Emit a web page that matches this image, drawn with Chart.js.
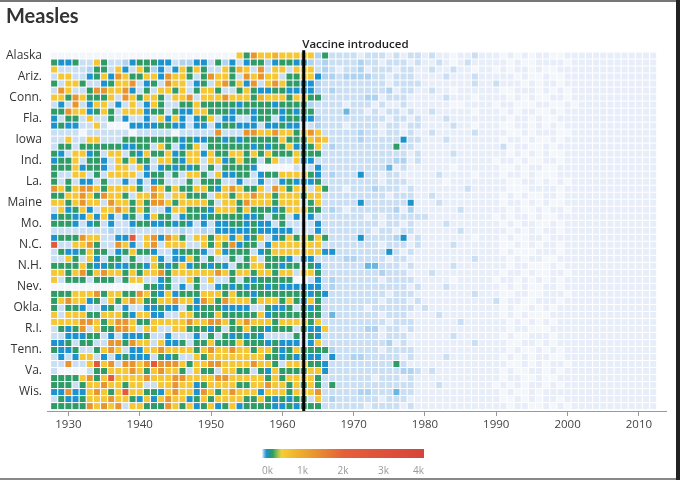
<!DOCTYPE html>
<html>
<head>
<meta charset="utf-8">
<title>Measles</title>
<script src="https://cdn.jsdelivr.net/npm/chart.js@4.4.1/dist/chart.umd.min.js"></script>
<style>
  html, body { margin: 0; padding: 0; background: #fff; }
  #wrap { position: relative; width: 680px; height: 480px; overflow: hidden; }
  #title { position: absolute; left: 6px; top: 3px; font: 700 20px/24px Lato, sans-serif; color: #333; }
  #main { position: absolute; left: 0; top: 0; }
  #legend { position: absolute; left: 240px; top: 440px; }
  .edge { position: absolute; }
</style>
</head>
<body>
<div id="wrap">
  <canvas id="main" width="680" height="480"></canvas>
  <canvas id="legend" width="200" height="40"></canvas>
  <div id="title">Measles</div>
  <div class="edge" style="left:0;top:0;width:680px;height:2px;background:#777"></div>
  <div class="edge" style="left:0;top:478px;width:680px;height:2px;background:#888"></div>
  <div class="edge" style="left:676px;top:0;width:4px;height:480px;background:#222"></div>
</div>
<script>
// states, alphabetical by postal code (only every third one is labelled)
const states = ['Alaska', 'Ala.', 'Ark.', 'Ariz.', 'Calif.', 'Colo.', 'Conn.', 'D.C.', 'Del.', 'Fla.',
    'Ga.', 'Hawaii', 'Iowa', 'Idaho', 'Ill.', 'Ind.', 'Kan.', 'Ky.', 'La.', 'Mass.',
    'Md.', 'Maine', 'Mich.', 'Minn.', 'Mo.', 'Miss.', 'Mont.', 'N.C.', 'N.D.', 'Neb.',
    'N.H.', 'N.J.', 'N.M.', 'Nev.', 'N.Y.', 'Ohio', 'Okla.', 'Ore.', 'Pa.', 'R.I.',
    'S.C.', 'S.D.', 'Tenn.', 'Texas', 'Utah', 'Va.', 'Vt.', 'Wash.', 'Wis.', 'W.Va.', 'Wyo.'];
const labelRows = [0, 3, 6, 9, 12, 15, 18, 21, 24, 27, 30, 33, 36, 39, 42, 45, 48];
const firstYear = 1928;
const tickYears = [1930, 1940, 1950, 1960, 1970, 1980, 1990, 2000, 2010];
const vaccineYear = 1963;
const legendTicks = [0, 1000, 2000, 3000, 4000];

// cases per 100,000 people
const classValues = { '.': null, '0': 0, '1': 14, '2': 30, 'm': 60, '3': 110, '4': 260, '5': 380,
    '6': 560, '7': 850, '8': 1300, '9': 2400 };

// colour scale
const scaleValues = [0, 8, 30, 60, 110, 180, 260, 380, 480, 850, 1300, 2000, 4000];
const scaleColors = ['#e8eef9', '#d4e4f5', '#aed2ef', '#6ab6e3', '#1c93cf', '#1f9690', '#2f9b66',
    '#8fc24b', '#f6cd36', '#f0b22c', '#e8952f', '#e5603a', '#d7433a'];
const noDataColor = '#f3f6fb';

// one string per state, 1928 ... 2012
// groups: 1928-37 1938-47 1948-57 1958-66 | 1967-79 1980-89 1990-2002 2003-12
const rows = [
    '.......... .......... ......6486 676666624 | 1111011101011 0100.00100 0.0.0.00..000 0000000000',
    '4334116411 2344433122 3314231344 234433212 | 1111211011101 0010.01000 00.0..0000.00 0000000000',
    '6111124416 3164231364 6411647618 166166612 | 1011201110110 0100100.00 .0.00.0..0000 0000000000',
    '1661134638 6446638664 1486641868 661446632 | 2122221101110 0001000100 000.0..0..000 0000000000',
    '4166411346 6813418661 3416846381 686443321 | 1111111101111 0000000100 1000.0.00.000 0000000000',
    '1861148866 8314166461 4664114643 344333321 | 2111111120110 0100.00000 0..000.0.0.00 0000000000',
    '6648644461 8646641668 1666866647 666466441 | 1111122011100 0001000.00 00.0.0..00.00 0000000000',
    '1318136613 1613641144 6444443444 434444211 | 1101110100100 0000..0000 .00...00..0.0 0000000000',
    '4486634641 6663441433 6644434434 443434411 | 11m1101011010 0100000.00 0.0.00..0.000 0000000000',
    '3144161141 3113163631 3461331134 413443321 | 1111111101101 0001000000 00.00.0..0000 0000000000',
    '34331161.. .333344331 3313443331 334331121 | 1101111011011 0000100.00 0..00.0.0.000 0000000000',
    '1111.11111 1.11111.11 1118111886 686646861 | 1111211011010 0100000100 00..0.000..00 0000000000',
    '1161166111 4444444434 3344343444 446444676 | 1111211111311 0001000000 0.00.0..0.000 0000000000',
    '1441444444 3344164134 6144444434 344633461 | 2111111114110 0000000000 01.00..0.0000 0000000000',
    '4316634166 1436446346 6364466464 644464441 | 1111111111101 0000100000 00.0.0.0..000 0000000000',
    '3446144316 4644166436 6166346441 461163311 | 1111111112201 0000000000 .00.0..00.000 0000000000',
    '4446344316 6163134343 414144443. ....11131 | 11111111m0100 0000.00000 0..0.00..0000 0000000000',
    '4116614166 6613441416 6416334413 446666431 | 2111311011000 0010000.00 0.00.0...0000 0000000000',
    '4141331411 3131341114 1444113113 113433341 | 1111111011100 000.000000 00..00.0.0.00 0000000000',
    '8646886466 6641864644 6643686446 186466164 | 1101112111010 0000001000 00...0000.000 0000000000',
    '4466864866 4166861664 4416646686 646664661 | 1111111101110 0100000000 0.0.0..00.000 0000000000',
    '6646866186 6464886466 6641664866 646661461 | 1111311111130 0010000000 0.00.0.0..000 0000000000',
    '1634631668 6464113664 4436664644 434666441 | 2101111112020 0000010000 00.0..0.00.00 0000000000',
    '3443363631 3413644134 4344444334 144131311 | 1111101011111 1000000000 .0.00.0..0000 0000000000',
    '4443134131 1344334343 1313344343 314111131 | 1111111011010 0001000000 0.0.00..0.000 0000000000',
    '1111111121 1211111121 1213333343 333311131 | 1111110110110 0000010000 00.0.0.00.000 0000000000',
    '3444866113 3916838641 6646636346 134646464 | 1111311112301 0000000.00 0.0..00.00000 0000000000',
    '9116684118 6316816661 1646483441 366666661 | 1111111011101 0000100000 0..0.0.00.000 0000000000',
    '1433464413 4644311344 4316344413 466666663 | 3111111131010 0000000000 0.0...000.000 0000000000',
    '1164163144 1411631336 4141141461 444313311 | 1122111101100 0000000100 00.0.00..0000 0000000000',
    '4444643343 3443643463 4434314466 443441431 | 11111mm111010 0000100000 00.00...0.000 0000000000',
    '6646846866 4646684666 6668646646 646616641 | 1111111211100 0100000000 0.00.0..00.00 0000000000',
    '6144414441 4661134116 4161141434 4444..131 | 2111111011110 0000.00000 .00.0.0.0.000 0000000000',
    '.......... ...4434131 4113434344 343333331 | 2111111111101 0001000000 0.0.0..00.000 0000000000',
    '4446668466 4486436344 4666464434 444444343 | 1111111101110 0000000100 0..00..000.00 0000000000',
    '4686634164 6864466866 3864866646 664643641 | 1111111011101 0000000000 1.00..000.000 0000000000',
    '4144311341 3113343314 3444333311 433414341 | 1111101111110 1000000000 0.0..0.0.0000 0000000000',
    '6166644666 4366331166 4446444446 344444441 | m111111011100 0010000000 0.0.0...00000 0000000000',
    '6666886468 8644666668 6688646866 646666461 | 1111111101110 0000010000 00.0.0.0.0000 0000000000',
    '1434816448 8616611664 4434144644 344414336 | 1111122011010 0000000000 00.00...00000 0000000000',
    '1133344131 3334113111 3141434343 111141431 | 1111111011100 0000100000 0.0..000.0000 0000000000',
    '3341441188 4866163341 4464446444 343331361 | 1111111120100 0000000100 00..00.0.0000 0000000000',
    '4334114686 1336686666 4686686646 643464444 | 2111111011110 0000000000 00.0..0.0.000 0000000000',
    '1313661313 4333143411 6466666666 443434331 | 3112211111010 0001000000 0.0.0.00..000 0000000000',
    '1181169681 8868988864 6688666686 641666443 | 1111111114100 0000000000 00..0.0.00.00 0000000000',
    '1....14466 6864686641 6441664414 364444663 | 1111111111221 0100000000 0.0..00.0.000 0000000000',
    '4444684696 6668666886 6668866666 464666641 | 1111110111010 0000000000 0.00..0..0000 0000000000',
    '4441466866 4661166866 3466664466 866464641 | 4111111111110 0010000000 .0.0.00.0.000 0000000000',
    '3383368646 9664436866 3864686663 666466681 | 111122111m110 0000000000 0.0..0.000000 0000000000',
    '1433466686 6436368663 4646666446 434344161 | 2111111011100 0000000000 0..0.0.00.000 0000000000',
    '4444486868 1664448646 3463463444 433434441 | 1111101111010 0000000000 00.00..0.0.00 0000000000'
];

Chart.defaults.font.family = "'Open Sans', sans-serif";

function hexToRgb(h) {
    return [parseInt(h.slice(1, 3), 16), parseInt(h.slice(3, 5), 16), parseInt(h.slice(5, 7), 16)];
}

function colorFor(v) {
    if (v === null || v === undefined) return noDataColor;
    if (v <= scaleValues[0]) return scaleColors[0];
    for (let i = 1; i < scaleValues.length; i++) {
        if (v <= scaleValues[i]) {
            const t = (v - scaleValues[i - 1]) / (scaleValues[i] - scaleValues[i - 1]);
            const a = hexToRgb(scaleColors[i - 1]), b = hexToRgb(scaleColors[i]);
            const c = a.map((x, k) => Math.round(x + (b[k] - x) * t));
            return 'rgb(' + c.join(',') + ')';
        }
    }
    return scaleColors[scaleColors.length - 1];
}

const cells = [];
rows.forEach((row, r) => {
    const codes = row.replace(/[ |]/g, '');
    for (let c = 0; c < codes.length; c++) {
        cells.push({ x: firstYear + c, y: r, v: classValues[codes[c]] });
    }
});

function cellRadius(ctx) {
    const xs = ctx.chart.scales.x, ys = ctx.chart.scales.y;
    if (!xs || !ys) return 4;
    const w = Math.abs(xs.getPixelForValue(1) - xs.getPixelForValue(0));
    const h = Math.abs(ys.getPixelForValue(1) - ys.getPixelForValue(0));
    return (Math.min(w, h) - 1) / Math.SQRT2;
}

const vaccineLabel = {
    id: 'vaccineLabel',
    afterDatasetsDraw(chart) {
        const x = chart.scales.x.getPixelForValue(vaccineYear);
        const c = chart.ctx;
        c.save();
        c.font = "600 11.5px 'Open Sans', sans-serif";
        c.fillStyle = '#222';
        c.textAlign = 'left';
        c.fillText('Vaccine introduced', x - 1.5, chart.chartArea.top - 4);
        c.restore();
    }
};

new Chart(document.getElementById('main'), {
    type: 'scatter',
    data: {
        datasets: [{
            type: 'line',
            data: [{ x: vaccineYear, y: -0.75 }, { x: vaccineYear, y: 50.7 }],
            borderColor: '#000',
            borderWidth: 3,
            pointRadius: 0,
            fill: false,
            clip: false,
            order: 0
        }, {
            data: cells,
            pointStyle: 'rect',
            pointRadius: cellRadius,
            pointBorderWidth: 0,
            backgroundColor: ctx => colorFor(ctx.raw && ctx.raw.v),
            order: 1
        }]
    },
    options: {
        responsive: false,
        animation: false,
        events: [],
        layout: { padding: { top: 52, right: 14, bottom: 39, left: 0 } },
        plugins: { legend: { display: false }, tooltip: { enabled: false } },
        scales: {
            x: {
                type: 'linear',
                min: 1927,
                max: 2013.8,
                afterBuildTicks: s => { s.ticks = tickYears.map(v => ({ value: v })); },
                afterFit: s => { s.height = 30; },
                ticks: { autoSkip: false, maxRotation: 0, padding: 2, color: '#444',
                    font: { size: 11.5 }, callback: v => String(v) },
                grid: { drawOnChartArea: false, tickLength: 5, tickColor: '#999' },
                border: { color: '#999', width: 1 }
            },
            y: {
                type: 'linear',
                reverse: true,
                min: -0.5,
                max: 50.7,
                afterBuildTicks: s => { s.ticks = labelRows.map(v => ({ value: v })); },
                afterFit: s => { s.width = 47; },
                ticks: { autoSkip: false, padding: 5, color: '#333', font: { size: 12 },
                    callback: v => states[v] },
                grid: { display: false, drawTicks: false },
                border: { display: false }
            }
        }
    },
    plugins: [vaccineLabel]
});

function legendGradient(ctx) {
    const chart = ctx.chart, area = chart.chartArea, xs = chart.scales.x;
    if (!area || !xs) return scaleColors[4];
    const g = chart.ctx.createLinearGradient(area.left, 0, area.right, 0);
    scaleValues.forEach((v, i) => {
        const t = (xs.getPixelForValue(v) - area.left) / (area.right - area.left);
        g.addColorStop(Math.min(1, Math.max(0, t)), scaleColors[i]);
    });
    return g;
}

new Chart(document.getElementById('legend'), {
    type: 'bar',
    data: {
        labels: [''],
        datasets: [{
            data: [[legendTicks[0], legendTicks[legendTicks.length - 1]]],
            backgroundColor: legendGradient,
            borderWidth: 0,
            barPercentage: 1,
            categoryPercentage: 1
        }]
    },
    options: {
        indexAxis: 'y',
        responsive: false,
        animation: false,
        events: [],
        layout: { padding: { left: 22, right: 16, top: 9, bottom: 3 } },
        plugins: { legend: { display: false }, tooltip: { enabled: false } },
        scales: {
            x: {
                min: 0,
                max: 4000,
                z: 1,
                afterBuildTicks: s => { s.ticks = legendTicks.map(v => ({ value: v })); },
                afterFit: s => { s.height = 19; },
                ticks: { autoSkip: false, maxRotation: 0, align: 'inner', padding: 7, color: '#999',
                    font: { size: 10 }, callback: v => (v / 1000) + 'k' },
                grid: { drawTicks: false,
                    color: ctx => (ctx.tick && ctx.tick.value > 0 && ctx.tick.value < 4000) ? '#ffffff' : 'rgba(0,0,0,0)' },
                border: { display: false }
            },
            y: { display: false }
        }
    }
});
</script>
</body>
</html>
